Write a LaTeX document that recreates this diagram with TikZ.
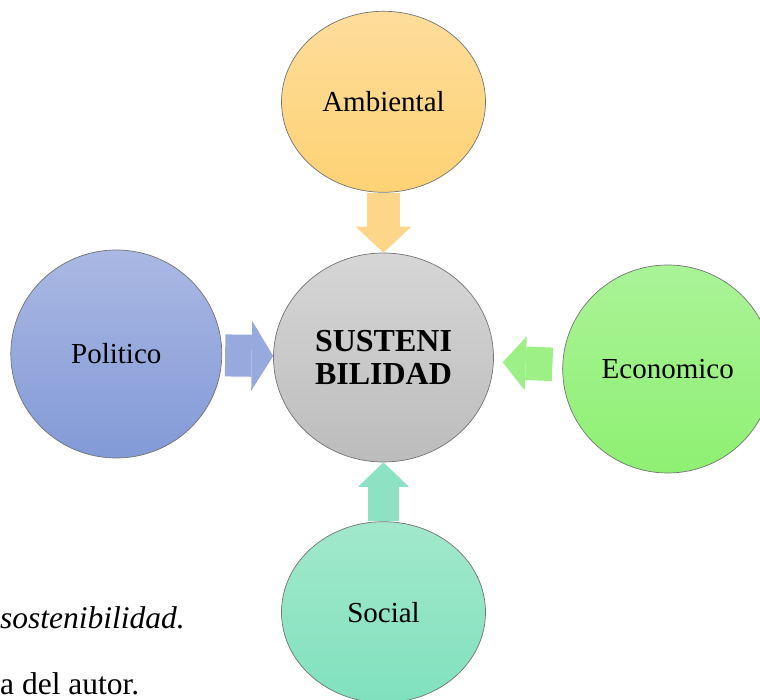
\documentclass[tikz,border=0pt]{standalone}
\usepackage{fontspec}
\setmainfont{Liberation Serif}
\usetikzlibrary{positioning,shapes.geometric,arrows.meta}

\definecolor{susTop}{RGB}{214,214,214}
\definecolor{susBot}{RGB}{188,188,188}
\definecolor{ambTop}{RGB}{254,221,155}
\definecolor{ambBot}{RGB}{254,210,116}
\definecolor{polTop}{RGB}{170,184,227}
\definecolor{polBot}{RGB}{130,154,215}
\definecolor{ecoTop}{RGB}{170,243,152}
\definecolor{ecoBot}{RGB}{142,240,114}
\definecolor{socTop}{RGB}{162,232,204}
\definecolor{socBot}{RGB}{128,225,190}
\definecolor{ambArr}{RGB}{254,214,138}
\definecolor{polArr}{RGB}{150,170,222}
\definecolor{ecoArr}{RGB}{156,240,134}
\definecolor{socArr}{RGB}{142,226,196}

\tikzset{
  circulo/.style={ellipse, draw=black!55, line width=0.7pt, inner sep=0pt,
    font=\fontsize{29}{34}\selectfont},
  flecha/.style={line width=33pt, -{Triangle[length=26pt,width=56pt,line width=0pt]}},
  leyenda/.style={anchor=base west, inner sep=0pt, font=\fontsize{31.5}{34}\selectfont},
}

\begin{document}
\begin{tikzpicture}[x=1pt,y=1pt]
    \clip (0,0) rectangle (760,700);
    \node[circulo, minimum width=220pt, minimum height=209pt, top color=susTop, bottom color=susBot,
          font=\fontsize{32}{33}\selectfont\bfseries, align=center] (sus) at (383.5,342.5) {SUSTENI\\BILIDAD};
    \node[circulo, minimum width=204pt, minimum height=181pt, top color=ambTop, bottom color=ambBot,
          above=60pt of sus] (amb) {Ambiental};
    \node[circulo, minimum width=204pt, minimum height=181pt, top color=socTop, bottom color=socBot,
          below=59pt of sus] (soc) {Social};
    \node[circulo, minimum width=211pt, minimum height=208pt, top color=polTop, bottom color=polBot,
          left=51pt of sus, yshift=3.5pt] (pol) {Politico};
    \node[circulo, minimum width=210pt, minimum height=208pt, top color=ecoTop, bottom color=ecoBot,
          right=68.5pt of sus, yshift=-11.5pt] (eco) {Economico};
    \draw[flecha, draw=ambArr] (amb) -- (sus);
    \draw[flecha, draw=socArr, line width=31pt, -{Triangle[length=24.5pt,width=51pt,line width=0pt]}] (soc) -- (sus);
    \draw[flecha, draw=polArr, line width=42pt, shorten <=3pt,
          -{Triangle[length=21.5pt,width=70pt,line width=0pt]}] (pol) -- (sus);
    \draw[flecha, draw=ecoArr, line width=33.5pt, shorten <=10pt, shorten >=9pt,
          -{Triangle[length=23pt,width=54pt,line width=0pt]}] (eco) -- (sus);
    \node[leyenda] (cap1) at (0,71) {\itshape sostenibilidad.};
    \node[leyenda] (cap2) at (0,5) {a del autor.};
\end{tikzpicture}
\end{document}
